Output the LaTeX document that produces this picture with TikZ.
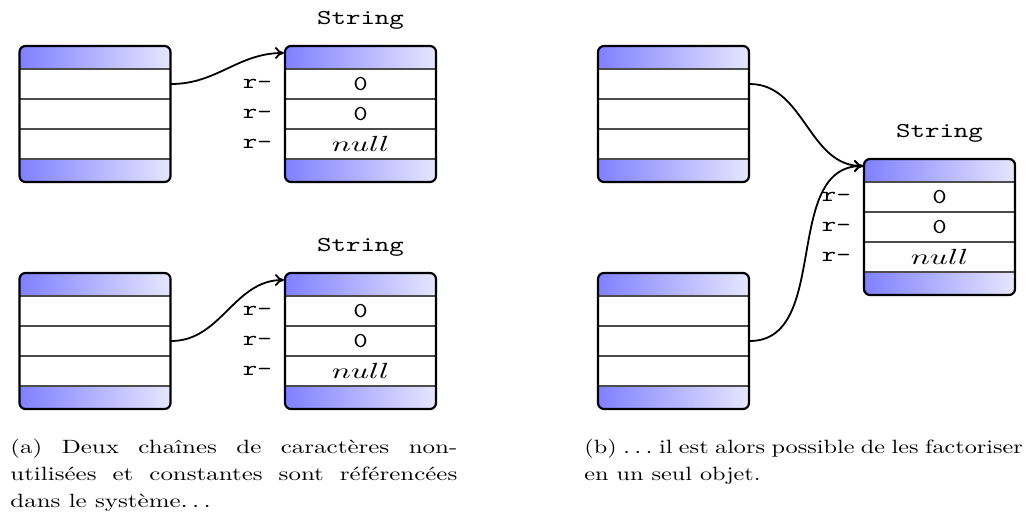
\documentclass[tikz,border=0pt]{standalone}
\usepackage{graphicx}
\usetikzlibrary{arrows.meta}

\definecolor{hdleft}{RGB}{128,128,255}
\definecolor{hdright}{RGB}{230,230,255}

% monospaced identifiers, set a little wide
\newcommand{\code}[1]{\scalebox{1.3}[1]{\fontsize{10.6}{12}\ttfamily\selectfont #1}}
\newcommand{\nullval}{\scalebox{1.45}[1]{\fontsize{10.6}{12}\selectfont$null$}}
% caption lines, set at a fixed width and widened like the identifiers
\newlength{\capw}
\newcommand{\capline}[1]{\hbox to \capw{#1}}

\tikzset{
  objframe/.style={draw=black, line width=1.1pt, rounded corners=3pt,
    minimum width=75.5pt, minimum height=68pt, inner sep=0pt},
  slot/.style={draw=black!70, line width=0.7pt, minimum width=75.5pt,
    minimum height=15pt, inner sep=0pt},
  reflabel/.style={anchor=mid east, inner sep=0pt},
  typename/.style={anchor=base, inner sep=0pt},
  link/.style={line width=0.9pt, -{To[length=4.5pt,width=6pt]}},
  capttext/.style={anchor=base west, inner sep=0pt,
    font=\fontsize{9.6}{13.5}\selectfont},
}

% object box: name, left, top, three slot texts
\newcommand{\objbox}[6]{%
  \begin{scope}
    \clip[rounded corners=3pt] (#2,#3) rectangle ++(151,136);
    \shade[left color=hdleft,right color=hdright] (#2,#3) rectangle ++(151,23);
    \shade[left color=hdleft,right color=hdright] (#2,#3+113) rectangle ++(151,23);
  \end{scope}
  \node[slot] (#1-1) at (#2+75.5,#3+38) {#4};
  \node[slot] (#1-2) at (#2+75.5,#3+68) {#5};
  \node[slot] (#1-3) at (#2+75.5,#3+98) {#6};
  \node[objframe] (#1) at (#2+75.5,#3+68) {};
}

% String object: name, left, top
\newcommand{\strbox}[3]{%
  \objbox{#1}{#2}{#3}{\code{0}}{\code{0}}{\nullval}
  \node[typename] (#1-t) at (#2+75.5,#3-21.5) {\code{String}};
  \node[reflabel] (#1-r1) at ([xshift=-6pt]#1-1.west) {\code{r-}};
  \node[reflabel] (#1-r2) at ([xshift=-6pt]#1-2.west) {\code{r-}};
  \node[reflabel] (#1-r3) at ([xshift=-6pt]#1-3.west) {\code{r-}};
  \coordinate (#1-in) at (#2-1,#3+7);
}

\begin{document}
\begin{tikzpicture}[x=0.5pt,y=-0.5pt]
  \useasboundingbox (0,0) rectangle (1026,518);

  % (a) two separate strings
  \objbox{A1}{19.5}{46}{}{}{}
  \strbox{S1}{285}{46}
  \objbox{A2}{19.5}{273}{}{}{}
  \strbox{S2}{285}{273}

  % (b) one shared string
  \objbox{B1}{598}{46}{}{}{}
  \objbox{B2}{598}{273}{}{}{}
  \strbox{S3}{864}{159}

  \draw[link] (A1-1.east) to[out=0,in=180] (S1-in);
  \draw[link] (A2-2.east) to[out=0,in=180] (S2-in);
  \draw[link] (B1-1.east) to[out=0,in=180] (S3-in);
  \draw[link] (B2-2.east) to[out=0,in=180] (S3-in);

  \node[capttext] (capA) at (10,453) {\setlength{\capw}{171.9pt}\scalebox{1.3}[1]{\parbox[t]{\capw}{%
    \capline{(a) Deux chaînes de caractères non-}%
    \capline{utilisées et constantes sont référencées}%
    \hbox{dans le système$\ldots$}}}};
  \node[capttext] (capB) at (584,453) {\setlength{\capw}{174pt}\scalebox{1.26}[1]{\parbox[t]{\capw}{%
    \capline{(b) $\ldots$ il est alors possible de les factoriser}%
    \hbox{en un seul objet.}}}};
\end{tikzpicture}
\end{document}
